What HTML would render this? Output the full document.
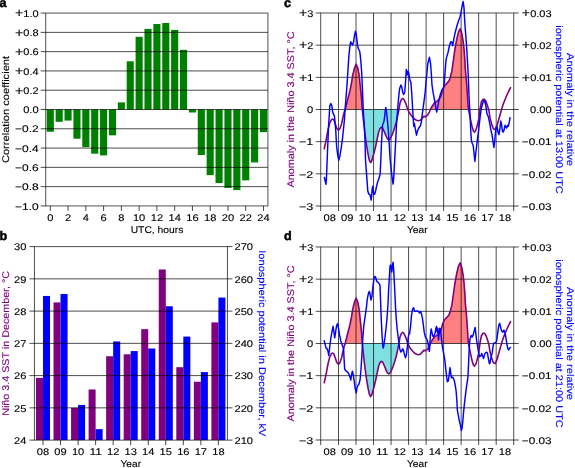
<!DOCTYPE html>
<html><head><meta charset="utf-8"><style>
html,body{margin:0;padding:0;background:#fff;}
body{width:575px;height:468px;overflow:hidden;}
svg{display:block;font-family:"Liberation Sans",sans-serif;will-change:transform;text-rendering:geometricPrecision;}
</style></head><body>
<svg width="575" height="468" viewBox="0 0 575 468">
<rect width="575" height="468" fill="#fff"/>
<g>
<rect x="46.75" y="109.5" width="7.11" height="22.27" fill="#008000"/>
<rect x="55.63" y="109.5" width="7.11" height="12.34" fill="#008000"/>
<rect x="64.51" y="109.5" width="7.11" height="11.09" fill="#008000"/>
<rect x="73.4" y="109.5" width="7.11" height="29.22" fill="#008000"/>
<rect x="82.28" y="109.5" width="7.11" height="37.6" fill="#008000"/>
<rect x="91.16" y="109.5" width="7.11" height="44.16" fill="#008000"/>
<rect x="100.04" y="109.5" width="7.11" height="45.9" fill="#008000"/>
<rect x="108.93" y="109.5" width="7.11" height="25.84" fill="#008000"/>
<rect x="117.81" y="102.36" width="7.11" height="7.14" fill="#008000"/>
<rect x="126.69" y="61.29" width="7.11" height="48.21" fill="#008000"/>
<rect x="135.58" y="36.8" width="7.11" height="72.7" fill="#008000"/>
<rect x="144.46" y="28.89" width="7.11" height="80.61" fill="#008000"/>
<rect x="153.34" y="23.98" width="7.11" height="85.52" fill="#008000"/>
<rect x="162.23" y="23.01" width="7.11" height="86.49" fill="#008000"/>
<rect x="171.11" y="29.95" width="7.11" height="79.55" fill="#008000"/>
<rect x="179.99" y="49.82" width="7.11" height="59.68" fill="#008000"/>
<rect x="188.87" y="109.5" width="7.11" height="2.99" fill="#008000"/>
<rect x="197.76" y="109.5" width="7.11" height="45.51" fill="#008000"/>
<rect x="206.64" y="109.5" width="7.11" height="65.66" fill="#008000"/>
<rect x="215.52" y="109.5" width="7.11" height="73.57" fill="#008000"/>
<rect x="224.41" y="109.5" width="7.11" height="78.39" fill="#008000"/>
<rect x="233.29" y="109.5" width="7.11" height="80.61" fill="#008000"/>
<rect x="242.17" y="109.5" width="7.11" height="70.87" fill="#008000"/>
<rect x="251.06" y="109.5" width="7.11" height="52.93" fill="#008000"/>
<rect x="259.94" y="109.5" width="7.11" height="22.66" fill="#008000"/>
<line x1="40.7" y1="205.92" x2="45.7" y2="205.92" stroke="#000" stroke-opacity="0.72" stroke-width="1"/>
<line x1="40.7" y1="186.64" x2="267.9" y2="186.64" stroke="#000" stroke-opacity="0.7" stroke-width="1"/>
<line x1="40.7" y1="167.35" x2="267.9" y2="167.35" stroke="#000" stroke-opacity="0.7" stroke-width="1"/>
<line x1="40.7" y1="148.07" x2="267.9" y2="148.07" stroke="#000" stroke-opacity="0.7" stroke-width="1"/>
<line x1="40.7" y1="128.78" x2="267.9" y2="128.78" stroke="#000" stroke-opacity="0.7" stroke-width="1"/>
<line x1="40.7" y1="109.5" x2="267.9" y2="109.5" stroke="#000" stroke-opacity="0.7" stroke-width="1"/>
<line x1="40.7" y1="90.22" x2="267.9" y2="90.22" stroke="#000" stroke-opacity="0.7" stroke-width="1"/>
<line x1="40.7" y1="70.93" x2="267.9" y2="70.93" stroke="#000" stroke-opacity="0.7" stroke-width="1"/>
<line x1="40.7" y1="51.65" x2="267.9" y2="51.65" stroke="#000" stroke-opacity="0.7" stroke-width="1"/>
<line x1="40.7" y1="32.36" x2="267.9" y2="32.36" stroke="#000" stroke-opacity="0.7" stroke-width="1"/>
<line x1="40.7" y1="13.08" x2="45.7" y2="13.08" stroke="#000" stroke-opacity="0.72" stroke-width="1"/>
<rect x="45.7" y="13.08" width="222.2" height="192.84" fill="none" stroke="#000" stroke-opacity="0.66" stroke-width="1.05"/>
<line x1="50.3" y1="205.92" x2="50.3" y2="210.92" stroke="#000" stroke-opacity="0.72" stroke-width="1"/>
<text x="50.3" y="220.9" text-anchor="middle" fill="#000" font-size="9.7" textLength="6.17" lengthAdjust="spacingAndGlyphs" stroke="#000" stroke-width="0.12">0</text>
<line x1="68.07" y1="205.92" x2="68.07" y2="210.92" stroke="#000" stroke-opacity="0.72" stroke-width="1"/>
<text x="68.07" y="220.9" text-anchor="middle" fill="#000" font-size="9.7" textLength="6.17" lengthAdjust="spacingAndGlyphs" stroke="#000" stroke-width="0.12">2</text>
<line x1="85.83" y1="205.92" x2="85.83" y2="210.92" stroke="#000" stroke-opacity="0.72" stroke-width="1"/>
<text x="85.83" y="220.9" text-anchor="middle" fill="#000" font-size="9.7" textLength="6.17" lengthAdjust="spacingAndGlyphs" stroke="#000" stroke-width="0.12">4</text>
<line x1="103.6" y1="205.92" x2="103.6" y2="210.92" stroke="#000" stroke-opacity="0.72" stroke-width="1"/>
<text x="103.6" y="220.9" text-anchor="middle" fill="#000" font-size="9.7" textLength="6.17" lengthAdjust="spacingAndGlyphs" stroke="#000" stroke-width="0.12">6</text>
<line x1="121.36" y1="205.92" x2="121.36" y2="210.92" stroke="#000" stroke-opacity="0.72" stroke-width="1"/>
<text x="121.36" y="220.9" text-anchor="middle" fill="#000" font-size="9.7" textLength="6.17" lengthAdjust="spacingAndGlyphs" stroke="#000" stroke-width="0.12">8</text>
<line x1="139.13" y1="205.92" x2="139.13" y2="210.92" stroke="#000" stroke-opacity="0.72" stroke-width="1"/>
<text x="139.13" y="220.9" text-anchor="middle" fill="#000" font-size="9.7" textLength="12.34" lengthAdjust="spacingAndGlyphs" stroke="#000" stroke-width="0.12">10</text>
<line x1="156.9" y1="205.92" x2="156.9" y2="210.92" stroke="#000" stroke-opacity="0.72" stroke-width="1"/>
<text x="156.9" y="220.9" text-anchor="middle" fill="#000" font-size="9.7" textLength="12.34" lengthAdjust="spacingAndGlyphs" stroke="#000" stroke-width="0.12">12</text>
<line x1="174.66" y1="205.92" x2="174.66" y2="210.92" stroke="#000" stroke-opacity="0.72" stroke-width="1"/>
<text x="174.66" y="220.9" text-anchor="middle" fill="#000" font-size="9.7" textLength="12.34" lengthAdjust="spacingAndGlyphs" stroke="#000" stroke-width="0.12">14</text>
<line x1="192.43" y1="205.92" x2="192.43" y2="210.92" stroke="#000" stroke-opacity="0.72" stroke-width="1"/>
<text x="192.43" y="220.9" text-anchor="middle" fill="#000" font-size="9.7" textLength="12.34" lengthAdjust="spacingAndGlyphs" stroke="#000" stroke-width="0.12">16</text>
<line x1="210.19" y1="205.92" x2="210.19" y2="210.92" stroke="#000" stroke-opacity="0.72" stroke-width="1"/>
<text x="210.19" y="220.9" text-anchor="middle" fill="#000" font-size="9.7" textLength="12.34" lengthAdjust="spacingAndGlyphs" stroke="#000" stroke-width="0.12">18</text>
<line x1="227.96" y1="205.92" x2="227.96" y2="210.92" stroke="#000" stroke-opacity="0.72" stroke-width="1"/>
<text x="227.96" y="220.9" text-anchor="middle" fill="#000" font-size="9.7" textLength="12.34" lengthAdjust="spacingAndGlyphs" stroke="#000" stroke-width="0.12">20</text>
<line x1="245.73" y1="205.92" x2="245.73" y2="210.92" stroke="#000" stroke-opacity="0.72" stroke-width="1"/>
<text x="245.73" y="220.9" text-anchor="middle" fill="#000" font-size="9.7" textLength="12.34" lengthAdjust="spacingAndGlyphs" stroke="#000" stroke-width="0.12">22</text>
<line x1="263.49" y1="205.92" x2="263.49" y2="210.92" stroke="#000" stroke-opacity="0.72" stroke-width="1"/>
<text x="263.49" y="220.9" text-anchor="middle" fill="#000" font-size="9.7" textLength="12.34" lengthAdjust="spacingAndGlyphs" stroke="#000" stroke-width="0.12">24</text>
<text x="38.6" y="209.62" text-anchor="end" fill="#000" font-size="9.7" textLength="23.55" lengthAdjust="spacingAndGlyphs" stroke="#000" stroke-width="0.12">−1.0</text>
<text x="38.6" y="190.34" text-anchor="end" fill="#000" font-size="9.7" textLength="23.55" lengthAdjust="spacingAndGlyphs" stroke="#000" stroke-width="0.12">−0.8</text>
<text x="38.6" y="171.05" text-anchor="end" fill="#000" font-size="9.7" textLength="23.55" lengthAdjust="spacingAndGlyphs" stroke="#000" stroke-width="0.12">−0.6</text>
<text x="38.6" y="151.77" text-anchor="end" fill="#000" font-size="9.7" textLength="23.55" lengthAdjust="spacingAndGlyphs" stroke="#000" stroke-width="0.12">−0.4</text>
<text x="38.6" y="132.48" text-anchor="end" fill="#000" font-size="9.7" textLength="23.55" lengthAdjust="spacingAndGlyphs" stroke="#000" stroke-width="0.12">−0.2</text>
<text x="38.6" y="113.2" text-anchor="end" fill="#000" font-size="9.7" textLength="15.43" lengthAdjust="spacingAndGlyphs" stroke="#000" stroke-width="0.12">0.0</text>
<text x="38.6" y="93.92" text-anchor="end" fill="#000" font-size="9.7" textLength="23.55" lengthAdjust="spacingAndGlyphs" stroke="#000" stroke-width="0.12"><tspan font-size="12.5" dy="0.6">+</tspan><tspan dy="-0.6">0.2</tspan></text>
<text x="38.6" y="74.63" text-anchor="end" fill="#000" font-size="9.7" textLength="23.55" lengthAdjust="spacingAndGlyphs" stroke="#000" stroke-width="0.12"><tspan font-size="12.5" dy="0.6">+</tspan><tspan dy="-0.6">0.4</tspan></text>
<text x="38.6" y="55.35" text-anchor="end" fill="#000" font-size="9.7" textLength="23.55" lengthAdjust="spacingAndGlyphs" stroke="#000" stroke-width="0.12"><tspan font-size="12.5" dy="0.6">+</tspan><tspan dy="-0.6">0.6</tspan></text>
<text x="38.6" y="36.06" text-anchor="end" fill="#000" font-size="9.7" textLength="23.55" lengthAdjust="spacingAndGlyphs" stroke="#000" stroke-width="0.12"><tspan font-size="12.5" dy="0.6">+</tspan><tspan dy="-0.6">0.8</tspan></text>
<text x="38.6" y="16.78" text-anchor="end" fill="#000" font-size="9.7" textLength="23.55" lengthAdjust="spacingAndGlyphs" stroke="#000" stroke-width="0.12"><tspan font-size="12.5" dy="0.6">+</tspan><tspan dy="-0.6">1.0</tspan></text>
<text x="157" y="233.3" text-anchor="middle" fill="#000" font-size="9.7" textLength="52.67" lengthAdjust="spacingAndGlyphs" stroke="#000" stroke-width="0.12">UTC, hours</text>
<text transform="translate(9 109.5) rotate(-90)" x="0" y="0" text-anchor="middle" fill="#000" font-size="9.7" textLength="107.13" lengthAdjust="spacingAndGlyphs" stroke="#000" stroke-width="0.12">Correlation coefficient</text>
</g>
<g>
<rect x="35.98" y="377.86" width="7.02" height="62.24" fill="#800080"/>
<rect x="43" y="295.94" width="7.02" height="144.16" fill="#0000ff"/>
<rect x="53.52" y="302.39" width="7.02" height="137.71" fill="#800080"/>
<rect x="60.54" y="294.01" width="7.02" height="146.09" fill="#0000ff"/>
<rect x="71.06" y="407.85" width="7.02" height="32.25" fill="#800080"/>
<rect x="78.08" y="404.95" width="7.02" height="35.15" fill="#0000ff"/>
<rect x="88.6" y="389.47" width="7.02" height="50.63" fill="#800080"/>
<rect x="95.62" y="429.13" width="7.02" height="10.97" fill="#0000ff"/>
<rect x="106.14" y="356.25" width="7.02" height="83.85" fill="#800080"/>
<rect x="113.16" y="341.42" width="7.02" height="98.69" fill="#0000ff"/>
<rect x="123.68" y="354.31" width="7.02" height="85.79" fill="#800080"/>
<rect x="130.7" y="351.09" width="7.02" height="89.01" fill="#0000ff"/>
<rect x="141.22" y="329.16" width="7.02" height="110.94" fill="#800080"/>
<rect x="148.24" y="348.51" width="7.02" height="91.59" fill="#0000ff"/>
<rect x="158.76" y="269.5" width="7.02" height="170.6" fill="#800080"/>
<rect x="165.78" y="306.26" width="7.02" height="133.84" fill="#0000ff"/>
<rect x="176.3" y="367.21" width="7.02" height="72.89" fill="#800080"/>
<rect x="183.32" y="336.58" width="7.02" height="103.52" fill="#0000ff"/>
<rect x="193.84" y="381.73" width="7.02" height="58.37" fill="#800080"/>
<rect x="200.86" y="372.05" width="7.02" height="68.05" fill="#0000ff"/>
<rect x="211.38" y="322.39" width="7.02" height="117.71" fill="#800080"/>
<rect x="218.4" y="297.56" width="7.02" height="142.54" fill="#0000ff"/>
<line x1="29.45" y1="440.1" x2="34.45" y2="440.1" stroke="#000" stroke-opacity="0.72" stroke-width="1"/>
<line x1="227.45" y1="440.1" x2="232.45" y2="440.1" stroke="#000" stroke-opacity="0.72" stroke-width="1"/>
<line x1="29.45" y1="407.85" x2="232.45" y2="407.85" stroke="#000" stroke-opacity="0.7" stroke-width="1"/>
<line x1="29.45" y1="375.6" x2="232.45" y2="375.6" stroke="#000" stroke-opacity="0.7" stroke-width="1"/>
<line x1="29.45" y1="343.35" x2="232.45" y2="343.35" stroke="#000" stroke-opacity="0.7" stroke-width="1"/>
<line x1="29.45" y1="311.1" x2="232.45" y2="311.1" stroke="#000" stroke-opacity="0.7" stroke-width="1"/>
<line x1="29.45" y1="278.85" x2="232.45" y2="278.85" stroke="#000" stroke-opacity="0.7" stroke-width="1"/>
<line x1="29.45" y1="246.6" x2="34.45" y2="246.6" stroke="#000" stroke-opacity="0.72" stroke-width="1"/>
<line x1="227.45" y1="246.6" x2="232.45" y2="246.6" stroke="#000" stroke-opacity="0.72" stroke-width="1"/>
<rect x="34.45" y="246.6" width="193" height="193.5" fill="none" stroke="#000" stroke-opacity="0.66" stroke-width="1.05"/>
<line x1="43" y1="440.1" x2="43" y2="445.1" stroke="#000" stroke-opacity="0.72" stroke-width="1"/>
<text x="43" y="454.9" text-anchor="middle" fill="#000" font-size="9.7" textLength="12.34" lengthAdjust="spacingAndGlyphs" stroke="#000" stroke-width="0.12">08</text>
<line x1="60.54" y1="440.1" x2="60.54" y2="445.1" stroke="#000" stroke-opacity="0.72" stroke-width="1"/>
<text x="60.54" y="454.9" text-anchor="middle" fill="#000" font-size="9.7" textLength="12.34" lengthAdjust="spacingAndGlyphs" stroke="#000" stroke-width="0.12">09</text>
<line x1="78.08" y1="440.1" x2="78.08" y2="445.1" stroke="#000" stroke-opacity="0.72" stroke-width="1"/>
<text x="78.08" y="454.9" text-anchor="middle" fill="#000" font-size="9.7" textLength="12.34" lengthAdjust="spacingAndGlyphs" stroke="#000" stroke-width="0.12">10</text>
<line x1="95.62" y1="440.1" x2="95.62" y2="445.1" stroke="#000" stroke-opacity="0.72" stroke-width="1"/>
<text x="95.62" y="454.9" text-anchor="middle" fill="#000" font-size="9.7" textLength="12.34" lengthAdjust="spacingAndGlyphs" stroke="#000" stroke-width="0.12">11</text>
<line x1="113.16" y1="440.1" x2="113.16" y2="445.1" stroke="#000" stroke-opacity="0.72" stroke-width="1"/>
<text x="113.16" y="454.9" text-anchor="middle" fill="#000" font-size="9.7" textLength="12.34" lengthAdjust="spacingAndGlyphs" stroke="#000" stroke-width="0.12">12</text>
<line x1="130.7" y1="440.1" x2="130.7" y2="445.1" stroke="#000" stroke-opacity="0.72" stroke-width="1"/>
<text x="130.7" y="454.9" text-anchor="middle" fill="#000" font-size="9.7" textLength="12.34" lengthAdjust="spacingAndGlyphs" stroke="#000" stroke-width="0.12">13</text>
<line x1="148.24" y1="440.1" x2="148.24" y2="445.1" stroke="#000" stroke-opacity="0.72" stroke-width="1"/>
<text x="148.24" y="454.9" text-anchor="middle" fill="#000" font-size="9.7" textLength="12.34" lengthAdjust="spacingAndGlyphs" stroke="#000" stroke-width="0.12">14</text>
<line x1="165.78" y1="440.1" x2="165.78" y2="445.1" stroke="#000" stroke-opacity="0.72" stroke-width="1"/>
<text x="165.78" y="454.9" text-anchor="middle" fill="#000" font-size="9.7" textLength="12.34" lengthAdjust="spacingAndGlyphs" stroke="#000" stroke-width="0.12">15</text>
<line x1="183.32" y1="440.1" x2="183.32" y2="445.1" stroke="#000" stroke-opacity="0.72" stroke-width="1"/>
<text x="183.32" y="454.9" text-anchor="middle" fill="#000" font-size="9.7" textLength="12.34" lengthAdjust="spacingAndGlyphs" stroke="#000" stroke-width="0.12">16</text>
<line x1="200.86" y1="440.1" x2="200.86" y2="445.1" stroke="#000" stroke-opacity="0.72" stroke-width="1"/>
<text x="200.86" y="454.9" text-anchor="middle" fill="#000" font-size="9.7" textLength="12.34" lengthAdjust="spacingAndGlyphs" stroke="#000" stroke-width="0.12">17</text>
<line x1="218.4" y1="440.1" x2="218.4" y2="445.1" stroke="#000" stroke-opacity="0.72" stroke-width="1"/>
<text x="218.4" y="454.9" text-anchor="middle" fill="#000" font-size="9.7" textLength="12.34" lengthAdjust="spacingAndGlyphs" stroke="#000" stroke-width="0.12">18</text>
<text x="26.4" y="443.8" text-anchor="end" fill="#000" font-size="9.7" textLength="12.34" lengthAdjust="spacingAndGlyphs" stroke="#000" stroke-width="0.12">24</text>
<text x="234.5" y="443.8" text-anchor="start" fill="#000" font-size="9.7" textLength="18.51" lengthAdjust="spacingAndGlyphs" stroke="#000" stroke-width="0.12">210</text>
<text x="26.4" y="411.55" text-anchor="end" fill="#000" font-size="9.7" textLength="12.34" lengthAdjust="spacingAndGlyphs" stroke="#000" stroke-width="0.12">25</text>
<text x="234.5" y="411.55" text-anchor="start" fill="#000" font-size="9.7" textLength="18.51" lengthAdjust="spacingAndGlyphs" stroke="#000" stroke-width="0.12">220</text>
<text x="26.4" y="379.3" text-anchor="end" fill="#000" font-size="9.7" textLength="12.34" lengthAdjust="spacingAndGlyphs" stroke="#000" stroke-width="0.12">26</text>
<text x="234.5" y="379.3" text-anchor="start" fill="#000" font-size="9.7" textLength="18.51" lengthAdjust="spacingAndGlyphs" stroke="#000" stroke-width="0.12">230</text>
<text x="26.4" y="347.05" text-anchor="end" fill="#000" font-size="9.7" textLength="12.34" lengthAdjust="spacingAndGlyphs" stroke="#000" stroke-width="0.12">27</text>
<text x="234.5" y="347.05" text-anchor="start" fill="#000" font-size="9.7" textLength="18.51" lengthAdjust="spacingAndGlyphs" stroke="#000" stroke-width="0.12">240</text>
<text x="26.4" y="314.8" text-anchor="end" fill="#000" font-size="9.7" textLength="12.34" lengthAdjust="spacingAndGlyphs" stroke="#000" stroke-width="0.12">28</text>
<text x="234.5" y="314.8" text-anchor="start" fill="#000" font-size="9.7" textLength="18.51" lengthAdjust="spacingAndGlyphs" stroke="#000" stroke-width="0.12">250</text>
<text x="26.4" y="282.55" text-anchor="end" fill="#000" font-size="9.7" textLength="12.34" lengthAdjust="spacingAndGlyphs" stroke="#000" stroke-width="0.12">29</text>
<text x="234.5" y="282.55" text-anchor="start" fill="#000" font-size="9.7" textLength="18.51" lengthAdjust="spacingAndGlyphs" stroke="#000" stroke-width="0.12">260</text>
<text x="26.4" y="250.3" text-anchor="end" fill="#000" font-size="9.7" textLength="12.34" lengthAdjust="spacingAndGlyphs" stroke="#000" stroke-width="0.12">30</text>
<text x="234.5" y="250.3" text-anchor="start" fill="#000" font-size="9.7" textLength="18.51" lengthAdjust="spacingAndGlyphs" stroke="#000" stroke-width="0.12">270</text>
<text x="130.8" y="467.2" text-anchor="middle" fill="#000" font-size="9.7" textLength="20.54" lengthAdjust="spacingAndGlyphs" stroke="#000" stroke-width="0.12">Year</text>
<text transform="translate(8.6 343.35) rotate(-90)" x="0" y="0" text-anchor="middle" fill="#800080" font-size="9.7" textLength="144.97" lengthAdjust="spacingAndGlyphs" stroke="#800080" stroke-width="0.12">Niño 3.4 SST in December, °C</text>
<text transform="translate(259 343.35) rotate(90)" x="0" y="0" text-anchor="middle" fill="#0000ff" font-size="9.7" textLength="186.18" lengthAdjust="spacingAndGlyphs" stroke="#0000ff" stroke-width="0.12">Ionospheric potential in December, kV</text>
</g>
<g>
<path d="M345.2 109.5 L345.2 109.6 L346.5 104.2 L348.1 97.8 L350.1 90.1 L351.6 82.4 L352.6 75.6 L354.5 68 L356.2 64.2 L357.8 68 L359 74.5 L360.3 86.3 L361.6 99.1 L362.3 109.6 L362.3 109.5 Z" fill="#ff8080" stroke="none"/>
<path d="M362.3 109.5 L362.3 109.6 L363.5 120.9 L364.8 132.4 L366.1 142.3 L368 153.8 L369.3 160.2 L370.6 162.6 L371.8 160.8 L373.8 153.8 L375.7 146.1 L376.6 142 L377.7 136.5 L378.6 132.2 L379.9 128.7 L381.3 127.4 L382.8 128.3 L384.3 131.7 L385.8 135.4 L387.3 138.8 L388.8 139.9 L390.3 138.8 L391.8 135.4 L393.3 131.7 L394.8 127.2 L396.3 122 L397.8 115.2 L398.9 109.6 L398.9 109.5 Z" fill="#7ee0e0" stroke="none"/>
<path d="M430.5 109.5 L430.5 109.5 L431.4 107.5 L433.8 103.7 L436.7 101.3 L439.1 99.3 L440.9 96.2 L442.8 89.3 L444.7 85.5 L447.3 82.9 L449.2 80.4 L450.5 76.5 L451.8 71.4 L452.8 64.5 L453.7 58 L455 48.7 L456.9 38.5 L458.5 32.1 L460.1 28.8 L461.8 33.3 L463.1 41 L464 48.7 L464.9 60 L465.3 68.8 L466.5 81.6 L467.4 94.5 L468.2 107.3 L468.5 109.6 L468.5 109.5 Z" fill="#ff8080" stroke="none"/>
<line x1="315.7" y1="206.01" x2="320.7" y2="206.01" stroke="#000" stroke-opacity="0.72" stroke-width="1"/>
<line x1="513.7" y1="206.01" x2="518.7" y2="206.01" stroke="#000" stroke-opacity="0.72" stroke-width="1"/>
<line x1="315.7" y1="173.84" x2="518.7" y2="173.84" stroke="#000" stroke-opacity="0.7" stroke-width="1"/>
<line x1="315.7" y1="141.67" x2="518.7" y2="141.67" stroke="#000" stroke-opacity="0.7" stroke-width="1"/>
<line x1="315.7" y1="109.5" x2="518.7" y2="109.5" stroke="#000" stroke-opacity="0.7" stroke-width="1"/>
<line x1="315.7" y1="77.33" x2="518.7" y2="77.33" stroke="#000" stroke-opacity="0.7" stroke-width="1"/>
<line x1="315.7" y1="45.16" x2="518.7" y2="45.16" stroke="#000" stroke-opacity="0.7" stroke-width="1"/>
<line x1="315.7" y1="12.99" x2="320.7" y2="12.99" stroke="#000" stroke-opacity="0.72" stroke-width="1"/>
<line x1="513.7" y1="12.99" x2="518.7" y2="12.99" stroke="#000" stroke-opacity="0.72" stroke-width="1"/>
<line x1="320.7" y1="206.01" x2="320.7" y2="211.01" stroke="#000" stroke-opacity="0.72" stroke-width="1"/>
<line x1="338.5" y1="12.99" x2="338.5" y2="211.01" stroke="#000" stroke-opacity="0.7" stroke-width="1"/>
<line x1="356.02" y1="12.99" x2="356.02" y2="211.01" stroke="#000" stroke-opacity="0.7" stroke-width="1"/>
<line x1="373.54" y1="12.99" x2="373.54" y2="211.01" stroke="#000" stroke-opacity="0.7" stroke-width="1"/>
<line x1="391.06" y1="12.99" x2="391.06" y2="211.01" stroke="#000" stroke-opacity="0.7" stroke-width="1"/>
<line x1="408.58" y1="12.99" x2="408.58" y2="211.01" stroke="#000" stroke-opacity="0.7" stroke-width="1"/>
<line x1="426.1" y1="12.99" x2="426.1" y2="211.01" stroke="#000" stroke-opacity="0.7" stroke-width="1"/>
<line x1="443.62" y1="12.99" x2="443.62" y2="211.01" stroke="#000" stroke-opacity="0.7" stroke-width="1"/>
<line x1="461.14" y1="12.99" x2="461.14" y2="211.01" stroke="#000" stroke-opacity="0.7" stroke-width="1"/>
<line x1="478.66" y1="12.99" x2="478.66" y2="211.01" stroke="#000" stroke-opacity="0.7" stroke-width="1"/>
<line x1="496.18" y1="12.99" x2="496.18" y2="211.01" stroke="#000" stroke-opacity="0.7" stroke-width="1"/>
<line x1="513.7" y1="206.01" x2="513.7" y2="211.01" stroke="#000" stroke-opacity="0.72" stroke-width="1"/>
<rect x="320.7" y="12.99" width="193" height="193.02" fill="none" stroke="#000" stroke-opacity="0.66" stroke-width="1.05"/>
<path d="M324.2 148.7 L325.4 143.5 L326.7 137.1 L327.6 132 L328.3 128.6 L329.8 122.8 L331.5 119.6 L332.7 119 L334 120.2 L335.3 124.1 L336.6 127.9 L337.9 129.8 L339.2 129.8 L340.4 127.3 L341.7 123.4 L343 117 L344.3 111.9 L345.2 109.6 L346.5 104.2 L348.1 97.8 L350.1 90.1 L351.6 82.4 L352.6 75.6 L354.5 68 L356.2 64.2 L357.8 68 L359 74.5 L360.3 86.3 L361.6 99.1 L362.3 109.6 L363.5 120.9 L364.8 132.4 L366.1 142.3 L368 153.8 L369.3 160.2 L370.6 162.6 L371.8 160.8 L373.8 153.8 L375.7 146.1 L376.6 142 L377.7 136.5 L378.6 132.2 L379.9 128.7 L381.3 127.4 L382.8 128.3 L384.3 131.7 L385.8 135.4 L387.3 138.8 L388.8 139.9 L390.3 138.8 L391.8 135.4 L393.3 131.7 L394.8 127.2 L396.3 122 L397.8 115.2 L398.9 109.6 L400 103 L401.6 99.1 L402.8 98.4 L404.1 99.7 L405.8 103.6 L407.3 108.1 L408.9 111.9 L410.5 114.5 L412.5 117 L414.4 119 L416.5 120.2 L418.5 120.7 L420.3 120.2 L422 118.4 L423.8 116.4 L425.7 116.6 L427.6 115.2 L429.5 111.8 L430.5 109.5 L431.4 107.5 L433.8 103.7 L436.7 101.3 L439.1 99.3 L440.9 96.2 L442.8 89.3 L444.7 85.5 L447.3 82.9 L449.2 80.4 L450.5 76.5 L451.8 71.4 L452.8 64.5 L453.7 58 L455 48.7 L456.9 38.5 L458.5 32.1 L460.1 28.8 L461.8 33.3 L463.1 41 L464 48.7 L464.9 60 L465.3 68.8 L466.5 81.6 L467.4 94.5 L468.2 107.3 L468.5 109.6 L469.7 115.4 L471 121.8 L472.3 127.6 L473.6 131.4 L474.6 132.1 L475.9 130.1 L477.2 125.6 L478.7 119.2 L480 109 L481.4 101.8 L483.1 99.2 L484.6 99.3 L486.2 102 L487.7 106.5 L488.9 110.5 L490 117.6 L491.7 124.4 L493.4 128.7 L495.1 129.6 L496.8 126.2 L498.5 120.2 L500.2 114.2 L501.9 108.2 L503.6 103.1 L505.4 98.8 L507.1 94.5 L508.8 91.1 L510.5 87.7" fill="none" stroke="#800080" stroke-width="1.6" stroke-linejoin="round" stroke-linecap="round"/>
<path d="M324.4 177.5 L325.1 180.7 L326 184.3 L326.5 176.9 L327 164 L327.5 151.2 L328 139.7 L328.5 127.3 L329.3 114.5 L329.8 106.1 L330.8 103.6 L331.8 105.5 L332.7 111.9 L333.6 114.5 L334.4 115.7 L334.9 120.9 L335.7 129.8 L336.6 146.1 L337.9 156.4 L338.8 160.2 L339.8 156.4 L341.1 148.7 L342.4 139.7 L343.2 132 L344.3 120.9 L345.2 108 L346.2 95.2 L347.2 82.4 L348.1 68 L349 54.6 L350 45.6 L350.7 41.8 L351.6 43.7 L352.6 45 L353.6 41.8 L354.5 35.4 L355.4 31.3 L356.2 34.1 L356.8 39.2 L357.5 44.4 L358 47.6 L358.8 49.5 L359.7 51.4 L360.3 55.9 L360.9 62.3 L361.6 71.3 L362 80 L362.4 88.8 L362.9 101.6 L363.5 114.5 L364.4 127.3 L365 140 L365.5 160 L366.3 170.7 L367.1 181.4 L367.8 191 L368.7 194 L369.8 194.2 L370.6 197.4 L371.2 200.1 L371.7 195.3 L372.2 188.9 L372.7 186.2 L373.2 190 L373.7 194.2 L374.6 194.2 L375.6 191 L376.7 185.7 L377.8 181.4 L379.4 177.1 L380.2 173.9 L380.5 166.4 L380.8 160 L381.4 144.8 L382.1 132.4 L382.5 125 L383.2 123.5 L384 121.2 L384.7 116 L385.3 110.5 L385.8 107.4 L386.6 112.5 L387.4 120 L388.3 130 L389.1 142.3 L390 157.6 L391.3 170.5 L392.4 180 L393.1 184.1 L393.8 176.5 L394.7 160 L395.5 144.8 L396.1 133 L396.7 121.2 L397.4 113 L398 105 L398.6 97.8 L399.6 88.8 L400.9 85 L401.9 87.5 L402.8 92.7 L403.7 94.6 L404.8 91.4 L405.4 83.7 L406.3 69.4 L407.1 75.1 L408 71.3 L408.9 73.8 L409.9 80 L410.9 82.4 L411.8 94 L412.5 106.8 L413.2 118 L413.8 126.5 L414.4 123.5 L415.5 130 L416.5 135.2 L417.5 131 L418.5 128.5 L419.5 127 L420.4 125.8 L421.3 122.5 L422.3 114.2 L423.3 106.5 L424.2 99.8 L425.2 92 L426 82 L426.6 76 L427.8 63.6 L429.4 57.2 L430.6 64 L431.4 75 L432 85 L433.2 93.2 L434.5 99.6 L435.8 107.3 L436.7 112 L437.7 107.3 L439 99.6 L440.3 94.5 L442.2 89.3 L443.5 88.1 L444.4 81.6 L445.1 71.4 L445.9 61.1 L446.4 58 L448 52.6 L449.5 45.5 L450.8 41.7 L451.8 42.3 L452.7 45.5 L453.7 39.7 L455 33.3 L456.3 28.2 L457.6 23.7 L458.8 19.9 L460.1 16.7 L461.4 10.3 L462.3 5.1 L463.1 1.5 L464 7.7 L464.6 19.2 L465.3 29.5 L466.2 41 L466.9 51.3 L467.5 62 L468.2 75 L468.7 88 L469.2 100 L469.8 110 L470.3 120 L470.8 132 L471.5 141 L472.3 143.5 L473.2 145.5 L474 153 L474.9 161.3 L475.8 153 L476.8 144.9 L477.7 137.2 L478.7 129.5 L480 118 L481.3 108.5 L482.6 103.5 L483.6 100.8 L484.6 100.8 L485.7 105 L486.9 113.5 L488.3 116.8 L489.6 122.7 L490.8 129.6 L492 134.7 L493 141.5 L493.9 147.5 L494.8 139.8 L495.6 131.3 L496.5 126.2 L497.3 127.9 L498.2 133 L499 134.7 L499.9 128.7 L500.7 121 L501.6 124.4 L502.4 131.3 L503.3 132.1 L504.2 129.6 L505 125.3 L505.9 127 L506.7 127.9 L507.6 125.3 L508.4 126.2 L509.3 121.9 L510.1 117.6" fill="none" stroke="#0000ff" stroke-width="1.45" stroke-linejoin="round" stroke-linecap="round"/>
<text x="329.74" y="220.9" text-anchor="middle" fill="#000" font-size="9.7" textLength="12.34" lengthAdjust="spacingAndGlyphs" stroke="#000" stroke-width="0.12">08</text>
<text x="347.26" y="220.9" text-anchor="middle" fill="#000" font-size="9.7" textLength="12.34" lengthAdjust="spacingAndGlyphs" stroke="#000" stroke-width="0.12">09</text>
<text x="364.78" y="220.9" text-anchor="middle" fill="#000" font-size="9.7" textLength="12.34" lengthAdjust="spacingAndGlyphs" stroke="#000" stroke-width="0.12">10</text>
<text x="382.3" y="220.9" text-anchor="middle" fill="#000" font-size="9.7" textLength="12.34" lengthAdjust="spacingAndGlyphs" stroke="#000" stroke-width="0.12">11</text>
<text x="399.82" y="220.9" text-anchor="middle" fill="#000" font-size="9.7" textLength="12.34" lengthAdjust="spacingAndGlyphs" stroke="#000" stroke-width="0.12">12</text>
<text x="417.34" y="220.9" text-anchor="middle" fill="#000" font-size="9.7" textLength="12.34" lengthAdjust="spacingAndGlyphs" stroke="#000" stroke-width="0.12">13</text>
<text x="434.86" y="220.9" text-anchor="middle" fill="#000" font-size="9.7" textLength="12.34" lengthAdjust="spacingAndGlyphs" stroke="#000" stroke-width="0.12">14</text>
<text x="452.38" y="220.9" text-anchor="middle" fill="#000" font-size="9.7" textLength="12.34" lengthAdjust="spacingAndGlyphs" stroke="#000" stroke-width="0.12">15</text>
<text x="469.9" y="220.9" text-anchor="middle" fill="#000" font-size="9.7" textLength="12.34" lengthAdjust="spacingAndGlyphs" stroke="#000" stroke-width="0.12">16</text>
<text x="487.42" y="220.9" text-anchor="middle" fill="#000" font-size="9.7" textLength="12.34" lengthAdjust="spacingAndGlyphs" stroke="#000" stroke-width="0.12">17</text>
<text x="504.94" y="220.9" text-anchor="middle" fill="#000" font-size="9.7" textLength="12.34" lengthAdjust="spacingAndGlyphs" stroke="#000" stroke-width="0.12">18</text>
<text x="313.3" y="209.71" text-anchor="end" fill="#000" font-size="9.7" textLength="14.3" lengthAdjust="spacingAndGlyphs" stroke="#000" stroke-width="0.12">−3</text>
<text x="551.6" y="209.71" text-anchor="end" fill="#000" font-size="9.7" textLength="29.73" lengthAdjust="spacingAndGlyphs" stroke="#000" stroke-width="0.12">−0.03</text>
<text x="313.3" y="177.54" text-anchor="end" fill="#000" font-size="9.7" textLength="14.3" lengthAdjust="spacingAndGlyphs" stroke="#000" stroke-width="0.12">−2</text>
<text x="551.6" y="177.54" text-anchor="end" fill="#000" font-size="9.7" textLength="29.73" lengthAdjust="spacingAndGlyphs" stroke="#000" stroke-width="0.12">−0.02</text>
<text x="313.3" y="145.37" text-anchor="end" fill="#000" font-size="9.7" textLength="14.3" lengthAdjust="spacingAndGlyphs" stroke="#000" stroke-width="0.12">−1</text>
<text x="551.6" y="145.37" text-anchor="end" fill="#000" font-size="9.7" textLength="29.73" lengthAdjust="spacingAndGlyphs" stroke="#000" stroke-width="0.12">−0.01</text>
<text x="313.3" y="113.2" text-anchor="end" fill="#000" font-size="9.7" textLength="6.17" lengthAdjust="spacingAndGlyphs" stroke="#000" stroke-width="0.12">0</text>
<text x="551.6" y="113.2" text-anchor="end" fill="#000" font-size="9.7" textLength="21.6" lengthAdjust="spacingAndGlyphs" stroke="#000" stroke-width="0.12">0.00</text>
<text x="313.3" y="81.03" text-anchor="end" fill="#000" font-size="9.7" textLength="14.3" lengthAdjust="spacingAndGlyphs" stroke="#000" stroke-width="0.12"><tspan font-size="12.5" dy="0.6">+</tspan><tspan dy="-0.6">1</tspan></text>
<text x="551.6" y="81.03" text-anchor="end" fill="#000" font-size="9.7" textLength="29.73" lengthAdjust="spacingAndGlyphs" stroke="#000" stroke-width="0.12"><tspan font-size="12.5" dy="0.6">+</tspan><tspan dy="-0.6">0.01</tspan></text>
<text x="313.3" y="48.86" text-anchor="end" fill="#000" font-size="9.7" textLength="14.3" lengthAdjust="spacingAndGlyphs" stroke="#000" stroke-width="0.12"><tspan font-size="12.5" dy="0.6">+</tspan><tspan dy="-0.6">2</tspan></text>
<text x="551.6" y="48.86" text-anchor="end" fill="#000" font-size="9.7" textLength="29.73" lengthAdjust="spacingAndGlyphs" stroke="#000" stroke-width="0.12"><tspan font-size="12.5" dy="0.6">+</tspan><tspan dy="-0.6">0.02</tspan></text>
<text x="313.3" y="16.69" text-anchor="end" fill="#000" font-size="9.7" textLength="14.3" lengthAdjust="spacingAndGlyphs" stroke="#000" stroke-width="0.12"><tspan font-size="12.5" dy="0.6">+</tspan><tspan dy="-0.6">3</tspan></text>
<text x="551.6" y="16.69" text-anchor="end" fill="#000" font-size="9.7" textLength="29.73" lengthAdjust="spacingAndGlyphs" stroke="#000" stroke-width="0.12"><tspan font-size="12.5" dy="0.6">+</tspan><tspan dy="-0.6">0.03</tspan></text>
<text x="417.3" y="233.4" text-anchor="middle" fill="#000" font-size="9.7" textLength="20.54" lengthAdjust="spacingAndGlyphs" stroke="#000" stroke-width="0.12">Year</text>
<text transform="translate(293.6 109.5) rotate(-90)" x="0" y="0" text-anchor="middle" fill="#800080" font-size="9.7" textLength="156.21" lengthAdjust="spacingAndGlyphs" stroke="#800080" stroke-width="0.12">Anomaly in the Niño 3.4 SST, °C</text>
<text transform="translate(566.7 109.5) rotate(90)" x="0" y="0" text-anchor="middle" fill="#0000ff" font-size="9.7" textLength="113.15" lengthAdjust="spacingAndGlyphs" stroke="#0000ff" stroke-width="0.12">Anomaly in the relative</text>
<text transform="translate(555.7 109.5) rotate(90)" x="0" y="0" text-anchor="middle" fill="#0000ff" font-size="9.7" textLength="168.47" lengthAdjust="spacingAndGlyphs" stroke="#0000ff" stroke-width="0.12">ionospheric potential at 13:00 UTC</text>
</g>
<g>
<path d="M345.2 343.5 L345.2 343.6 L346.5 338.2 L348.1 331.8 L350.1 324.1 L351.6 316.4 L352.6 309.6 L354.5 302 L356.2 298.2 L357.8 302 L359 308.5 L360.3 320.3 L361.6 333.1 L362.3 343.6 L362.3 343.5 Z" fill="#ff8080" stroke="none"/>
<path d="M362.3 343.5 L362.3 343.6 L363.5 354.9 L364.8 366.4 L366.1 376.3 L368 387.8 L369.3 394.2 L370.6 396.6 L371.8 394.8 L373.8 387.8 L375.7 380.1 L376.6 376 L377.7 370.5 L378.6 366.2 L379.9 362.7 L381.3 361.4 L382.8 362.3 L384.3 365.7 L385.8 369.4 L387.3 372.8 L388.8 373.9 L390.3 372.8 L391.8 369.4 L393.3 365.7 L394.8 361.2 L396.3 356 L397.8 349.2 L398.9 343.6 L398.9 343.5 Z" fill="#7ee0e0" stroke="none"/>
<path d="M430.5 343.5 L430.5 343.5 L431.4 341.5 L433.8 337.7 L436.7 335.3 L439.1 333.3 L440.9 330.2 L442.8 323.3 L444.7 319.5 L447.3 316.9 L449.2 314.4 L450.5 310.5 L451.8 305.4 L452.8 298.5 L453.7 292 L455 282.7 L456.9 272.5 L458.5 266.1 L460.1 262.8 L461.8 267.3 L463.1 275 L464 282.7 L464.9 294 L465.3 302.8 L466.5 315.6 L467.4 328.5 L468.2 341.3 L468.5 343.6 L468.5 343.5 Z" fill="#ff8080" stroke="none"/>
<line x1="315.7" y1="440.01" x2="320.7" y2="440.01" stroke="#000" stroke-opacity="0.72" stroke-width="1"/>
<line x1="513.7" y1="440.01" x2="518.7" y2="440.01" stroke="#000" stroke-opacity="0.72" stroke-width="1"/>
<line x1="315.7" y1="407.84" x2="518.7" y2="407.84" stroke="#000" stroke-opacity="0.7" stroke-width="1"/>
<line x1="315.7" y1="375.67" x2="518.7" y2="375.67" stroke="#000" stroke-opacity="0.7" stroke-width="1"/>
<line x1="315.7" y1="343.5" x2="518.7" y2="343.5" stroke="#000" stroke-opacity="0.7" stroke-width="1"/>
<line x1="315.7" y1="311.33" x2="518.7" y2="311.33" stroke="#000" stroke-opacity="0.7" stroke-width="1"/>
<line x1="315.7" y1="279.16" x2="518.7" y2="279.16" stroke="#000" stroke-opacity="0.7" stroke-width="1"/>
<line x1="315.7" y1="246.99" x2="320.7" y2="246.99" stroke="#000" stroke-opacity="0.72" stroke-width="1"/>
<line x1="513.7" y1="246.99" x2="518.7" y2="246.99" stroke="#000" stroke-opacity="0.72" stroke-width="1"/>
<line x1="320.7" y1="440.01" x2="320.7" y2="445.01" stroke="#000" stroke-opacity="0.72" stroke-width="1"/>
<line x1="338.5" y1="246.99" x2="338.5" y2="445.01" stroke="#000" stroke-opacity="0.7" stroke-width="1"/>
<line x1="356.02" y1="246.99" x2="356.02" y2="445.01" stroke="#000" stroke-opacity="0.7" stroke-width="1"/>
<line x1="373.54" y1="246.99" x2="373.54" y2="445.01" stroke="#000" stroke-opacity="0.7" stroke-width="1"/>
<line x1="391.06" y1="246.99" x2="391.06" y2="445.01" stroke="#000" stroke-opacity="0.7" stroke-width="1"/>
<line x1="408.58" y1="246.99" x2="408.58" y2="445.01" stroke="#000" stroke-opacity="0.7" stroke-width="1"/>
<line x1="426.1" y1="246.99" x2="426.1" y2="445.01" stroke="#000" stroke-opacity="0.7" stroke-width="1"/>
<line x1="443.62" y1="246.99" x2="443.62" y2="445.01" stroke="#000" stroke-opacity="0.7" stroke-width="1"/>
<line x1="461.14" y1="246.99" x2="461.14" y2="445.01" stroke="#000" stroke-opacity="0.7" stroke-width="1"/>
<line x1="478.66" y1="246.99" x2="478.66" y2="445.01" stroke="#000" stroke-opacity="0.7" stroke-width="1"/>
<line x1="496.18" y1="246.99" x2="496.18" y2="445.01" stroke="#000" stroke-opacity="0.7" stroke-width="1"/>
<line x1="513.7" y1="440.01" x2="513.7" y2="445.01" stroke="#000" stroke-opacity="0.72" stroke-width="1"/>
<rect x="320.7" y="246.99" width="193" height="193.02" fill="none" stroke="#000" stroke-opacity="0.66" stroke-width="1.05"/>
<path d="M324.2 382.7 L325.4 377.5 L326.7 371.1 L327.6 366 L328.3 362.6 L329.8 356.8 L331.5 353.6 L332.7 353 L334 354.2 L335.3 358.1 L336.6 361.9 L337.9 363.8 L339.2 363.8 L340.4 361.3 L341.7 357.4 L343 351 L344.3 345.9 L345.2 343.6 L346.5 338.2 L348.1 331.8 L350.1 324.1 L351.6 316.4 L352.6 309.6 L354.5 302 L356.2 298.2 L357.8 302 L359 308.5 L360.3 320.3 L361.6 333.1 L362.3 343.6 L363.5 354.9 L364.8 366.4 L366.1 376.3 L368 387.8 L369.3 394.2 L370.6 396.6 L371.8 394.8 L373.8 387.8 L375.7 380.1 L376.6 376 L377.7 370.5 L378.6 366.2 L379.9 362.7 L381.3 361.4 L382.8 362.3 L384.3 365.7 L385.8 369.4 L387.3 372.8 L388.8 373.9 L390.3 372.8 L391.8 369.4 L393.3 365.7 L394.8 361.2 L396.3 356 L397.8 349.2 L398.9 343.6 L400 337 L401.6 333.1 L402.8 332.4 L404.1 333.7 L405.8 337.6 L407.3 342.1 L408.9 345.9 L410.5 348.5 L412.5 351 L414.4 353 L416.5 354.2 L418.5 354.7 L420.3 354.2 L422 352.4 L423.8 350.4 L425.7 350.6 L427.6 349.2 L429.5 345.8 L430.5 343.5 L431.4 341.5 L433.8 337.7 L436.7 335.3 L439.1 333.3 L440.9 330.2 L442.8 323.3 L444.7 319.5 L447.3 316.9 L449.2 314.4 L450.5 310.5 L451.8 305.4 L452.8 298.5 L453.7 292 L455 282.7 L456.9 272.5 L458.5 266.1 L460.1 262.8 L461.8 267.3 L463.1 275 L464 282.7 L464.9 294 L465.3 302.8 L466.5 315.6 L467.4 328.5 L468.2 341.3 L468.5 343.6 L469.7 349.4 L471 355.8 L472.3 361.6 L473.6 365.4 L474.6 366.1 L475.9 364.1 L477.2 359.6 L478.7 353.2 L480 343 L481.4 335.8 L483.1 333.2 L484.6 333.3 L486.2 336 L487.7 340.5 L488.9 344.5 L490 351.6 L491.7 358.4 L493.4 362.7 L495.1 363.6 L496.8 360.2 L498.5 354.2 L500.2 348.2 L501.9 342.2 L503.6 337.1 L505.4 332.8 L507.1 328.5 L508.8 325.1 L510.5 321.7" fill="none" stroke="#800080" stroke-width="1.6" stroke-linejoin="round" stroke-linecap="round"/>
<path d="M324.2 340.8 L325.1 344.2 L326 348.1 L327 348.5 L328 351.3 L328.8 355.5 L329.5 348.7 L330.8 338.5 L332.1 330.8 L333.1 326.3 L333.9 332.1 L334.7 337.8 L335.6 332.1 L336.6 325.6 L337.5 323.7 L338.5 328.2 L339.5 334.6 L340.8 341 L342.4 345.5 L343.6 348.7 L344 357.7 L344.7 369.2 L346.2 371.2 L347.7 372.1 L349 374.4 L350.1 377.6 L350.8 380.1 L351.6 374.4 L352.4 371.2 L353.3 375 L354.2 380.8 L355.2 388.5 L356.2 392.9 L357.1 387.2 L358 385.3 L359 384 L360.1 379.5 L360.9 370.5 L361.6 360.3 L362.2 350 L362.8 338.5 L363.8 325.6 L365.1 316.7 L366.4 307.7 L367.2 300 L367.8 296.3 L368.5 293.1 L369.4 291.4 L370.1 294.4 L371 300.1 L371.9 296.3 L373 286 L374 278.3 L374.9 276.4 L375.8 277.7 L376.8 281.5 L377.8 282.2 L379.1 283.5 L380 285.4 L380.4 296 L380.9 310 L381.3 320.5 L382.1 335.9 L382.8 346.2 L383.3 348.1 L384.1 343.6 L385 337.2 L385.9 329.5 L386.9 319.2 L387.6 310.3 L388.2 300 L388.6 289.9 L389.4 277.1 L390 266.2 L390.6 264.9 L391.3 268.1 L391.8 271.9 L392.4 265.5 L393.1 262.3 L393.7 270.6 L394.4 283.5 L395 296.3 L395.5 307 L396.2 318 L397.2 329.5 L398.5 339.7 L399.7 348.7 L400.8 351.9 L401.7 351.3 L402.6 348.7 L403.6 350.6 L404.6 355.1 L405.5 357.7 L406.4 355.1 L407.2 348.7 L408.1 338.5 L408.7 334.6 L409.7 333.3 L410.6 325.6 L411.5 315.4 L412.6 309 L413.6 307.7 L414.5 310.9 L415.4 311.5 L416.4 310.9 L417.6 311 L418.6 311.7 L419.5 312.9 L420.4 311.4 L421.4 313.6 L422.4 318.1 L423.3 324.5 L424.2 332.2 L425.3 336.7 L426.3 338.6 L427.2 339.9 L428.1 343.7 L428.8 348.8 L429.4 351.4 L429.9 343.7 L430.4 334.7 L431.2 329 L431.9 332.2 L432.7 336 L433.6 336.7 L434.5 334.7 L435.3 332.2 L435.9 328.3 L436.5 326.4 L437.2 332.2 L437.8 328.3 L438.5 339.9 L439.1 334.7 L439.7 328.3 L440.4 329 L441 333.5 L441.7 341.2 L442.6 348 L443.8 354.1 L444.9 360.5 L445.8 369.5 L446.7 377.2 L447.4 381.7 L448.3 381 L449.2 374.6 L450 367.6 L450.6 372.1 L451.5 377.8 L452.6 377.2 L453.5 378.5 L454.4 381 L455.4 386.2 L456.2 392 L456.9 401 L457.3 409.6 L458.2 414.9 L459.2 420.3 L460.5 425.6 L461.4 430.4 L462.1 427.7 L462.8 421.3 L463.5 412.8 L464.4 404.2 L465.1 397.8 L465.9 391.4 L466.7 385 L467.2 382.3 L467.9 377.2 L468.5 365.6 L469 352.8 L469.5 344 L470.1 338.6 L471.1 335.4 L472.1 337.1 L473.2 334.9 L474.3 330.6 L475.1 327.4 L475.9 333.8 L476.6 340.3 L477.5 345.6 L478.3 350.9 L479.1 355 L479.7 356.7 L480.8 356 L481.7 353.5 L482.6 356 L483.6 358.6 L484.6 354.1 L485.5 352.8 L486.4 352.2 L487.4 352.8 L488.5 359.2 L489.4 363.7 L490 363.1 L490.6 359.2 L491.3 356.7 L492.3 352.2 L493.2 345.1 L494 342.9 L495.6 342.6 L496.5 341.3 L497.2 337.1 L498 330.6 L498.8 325.3 L499.7 323.2 L500.4 326.4 L501.2 329.6 L502.1 331.7 L502.9 332.2 L504 330.1 L504.7 331.7 L505.5 334.9 L506.3 340.3 L507.2 345.6 L507.9 348.8 L508.7 349.9 L509.5 348.3 L510.4 347.5" fill="none" stroke="#0000ff" stroke-width="1.45" stroke-linejoin="round" stroke-linecap="round"/>
<text x="329.74" y="454.9" text-anchor="middle" fill="#000" font-size="9.7" textLength="12.34" lengthAdjust="spacingAndGlyphs" stroke="#000" stroke-width="0.12">08</text>
<text x="347.26" y="454.9" text-anchor="middle" fill="#000" font-size="9.7" textLength="12.34" lengthAdjust="spacingAndGlyphs" stroke="#000" stroke-width="0.12">09</text>
<text x="364.78" y="454.9" text-anchor="middle" fill="#000" font-size="9.7" textLength="12.34" lengthAdjust="spacingAndGlyphs" stroke="#000" stroke-width="0.12">10</text>
<text x="382.3" y="454.9" text-anchor="middle" fill="#000" font-size="9.7" textLength="12.34" lengthAdjust="spacingAndGlyphs" stroke="#000" stroke-width="0.12">11</text>
<text x="399.82" y="454.9" text-anchor="middle" fill="#000" font-size="9.7" textLength="12.34" lengthAdjust="spacingAndGlyphs" stroke="#000" stroke-width="0.12">12</text>
<text x="417.34" y="454.9" text-anchor="middle" fill="#000" font-size="9.7" textLength="12.34" lengthAdjust="spacingAndGlyphs" stroke="#000" stroke-width="0.12">13</text>
<text x="434.86" y="454.9" text-anchor="middle" fill="#000" font-size="9.7" textLength="12.34" lengthAdjust="spacingAndGlyphs" stroke="#000" stroke-width="0.12">14</text>
<text x="452.38" y="454.9" text-anchor="middle" fill="#000" font-size="9.7" textLength="12.34" lengthAdjust="spacingAndGlyphs" stroke="#000" stroke-width="0.12">15</text>
<text x="469.9" y="454.9" text-anchor="middle" fill="#000" font-size="9.7" textLength="12.34" lengthAdjust="spacingAndGlyphs" stroke="#000" stroke-width="0.12">16</text>
<text x="487.42" y="454.9" text-anchor="middle" fill="#000" font-size="9.7" textLength="12.34" lengthAdjust="spacingAndGlyphs" stroke="#000" stroke-width="0.12">17</text>
<text x="504.94" y="454.9" text-anchor="middle" fill="#000" font-size="9.7" textLength="12.34" lengthAdjust="spacingAndGlyphs" stroke="#000" stroke-width="0.12">18</text>
<text x="313.3" y="443.71" text-anchor="end" fill="#000" font-size="9.7" textLength="14.3" lengthAdjust="spacingAndGlyphs" stroke="#000" stroke-width="0.12">−3</text>
<text x="551.6" y="443.71" text-anchor="end" fill="#000" font-size="9.7" textLength="29.73" lengthAdjust="spacingAndGlyphs" stroke="#000" stroke-width="0.12">−0.03</text>
<text x="313.3" y="411.54" text-anchor="end" fill="#000" font-size="9.7" textLength="14.3" lengthAdjust="spacingAndGlyphs" stroke="#000" stroke-width="0.12">−2</text>
<text x="551.6" y="411.54" text-anchor="end" fill="#000" font-size="9.7" textLength="29.73" lengthAdjust="spacingAndGlyphs" stroke="#000" stroke-width="0.12">−0.02</text>
<text x="313.3" y="379.37" text-anchor="end" fill="#000" font-size="9.7" textLength="14.3" lengthAdjust="spacingAndGlyphs" stroke="#000" stroke-width="0.12">−1</text>
<text x="551.6" y="379.37" text-anchor="end" fill="#000" font-size="9.7" textLength="29.73" lengthAdjust="spacingAndGlyphs" stroke="#000" stroke-width="0.12">−0.01</text>
<text x="313.3" y="347.2" text-anchor="end" fill="#000" font-size="9.7" textLength="6.17" lengthAdjust="spacingAndGlyphs" stroke="#000" stroke-width="0.12">0</text>
<text x="551.6" y="347.2" text-anchor="end" fill="#000" font-size="9.7" textLength="21.6" lengthAdjust="spacingAndGlyphs" stroke="#000" stroke-width="0.12">0.00</text>
<text x="313.3" y="315.03" text-anchor="end" fill="#000" font-size="9.7" textLength="14.3" lengthAdjust="spacingAndGlyphs" stroke="#000" stroke-width="0.12"><tspan font-size="12.5" dy="0.6">+</tspan><tspan dy="-0.6">1</tspan></text>
<text x="551.6" y="315.03" text-anchor="end" fill="#000" font-size="9.7" textLength="29.73" lengthAdjust="spacingAndGlyphs" stroke="#000" stroke-width="0.12"><tspan font-size="12.5" dy="0.6">+</tspan><tspan dy="-0.6">0.01</tspan></text>
<text x="313.3" y="282.86" text-anchor="end" fill="#000" font-size="9.7" textLength="14.3" lengthAdjust="spacingAndGlyphs" stroke="#000" stroke-width="0.12"><tspan font-size="12.5" dy="0.6">+</tspan><tspan dy="-0.6">2</tspan></text>
<text x="551.6" y="282.86" text-anchor="end" fill="#000" font-size="9.7" textLength="29.73" lengthAdjust="spacingAndGlyphs" stroke="#000" stroke-width="0.12"><tspan font-size="12.5" dy="0.6">+</tspan><tspan dy="-0.6">0.02</tspan></text>
<text x="313.3" y="250.69" text-anchor="end" fill="#000" font-size="9.7" textLength="14.3" lengthAdjust="spacingAndGlyphs" stroke="#000" stroke-width="0.12"><tspan font-size="12.5" dy="0.6">+</tspan><tspan dy="-0.6">3</tspan></text>
<text x="551.6" y="250.69" text-anchor="end" fill="#000" font-size="9.7" textLength="29.73" lengthAdjust="spacingAndGlyphs" stroke="#000" stroke-width="0.12"><tspan font-size="12.5" dy="0.6">+</tspan><tspan dy="-0.6">0.03</tspan></text>
<text x="417.3" y="467.4" text-anchor="middle" fill="#000" font-size="9.7" textLength="20.54" lengthAdjust="spacingAndGlyphs" stroke="#000" stroke-width="0.12">Year</text>
<text transform="translate(293.6 343.5) rotate(-90)" x="0" y="0" text-anchor="middle" fill="#800080" font-size="9.7" textLength="156.21" lengthAdjust="spacingAndGlyphs" stroke="#800080" stroke-width="0.12">Anomaly in the Niño 3.4 SST, °C</text>
<text transform="translate(566.7 343.5) rotate(90)" x="0" y="0" text-anchor="middle" fill="#0000ff" font-size="9.7" textLength="113.15" lengthAdjust="spacingAndGlyphs" stroke="#0000ff" stroke-width="0.12">Anomaly in the relative</text>
<text transform="translate(555.7 343.5) rotate(90)" x="0" y="0" text-anchor="middle" fill="#0000ff" font-size="9.7" textLength="168.47" lengthAdjust="spacingAndGlyphs" stroke="#0000ff" stroke-width="0.12">ionospheric potential at 21:00 UTC</text>
</g>
<text x="-0.4" y="6.6" font-size="12.6" font-weight="bold" stroke="#000" stroke-width="0.5">a</text>
<text x="-0.4" y="240.4" font-size="12.6" font-weight="bold" stroke="#000" stroke-width="0.5">b</text>
<text x="284.1" y="6.6" font-size="12.6" font-weight="bold" stroke="#000" stroke-width="0.5">c</text>
<text x="284.1" y="240.4" font-size="12.6" font-weight="bold" stroke="#000" stroke-width="0.5">d</text>
</svg>
</body></html>
